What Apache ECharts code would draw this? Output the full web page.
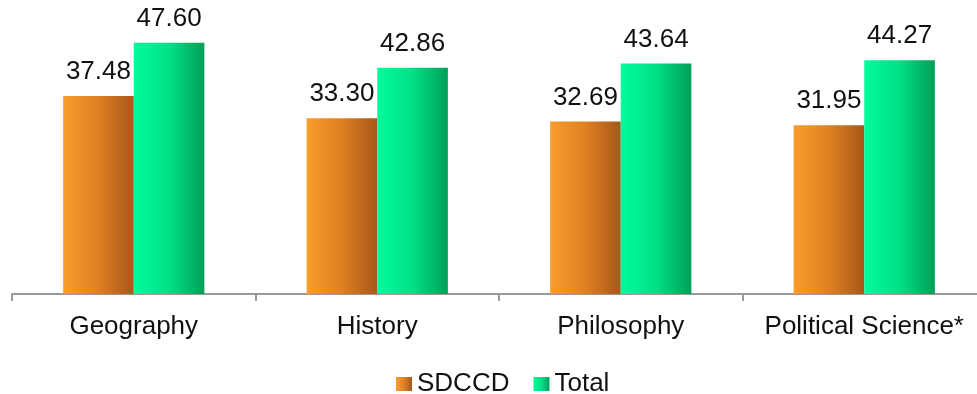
<!DOCTYPE html>
<html>
<head>
<meta charset="utf-8">
<style>
  html, body { margin: 0; padding: 0; background: #fff; }
  #chart { width: 977px; height: 394px; }
</style>
<script src="https://cdn.jsdelivr.net/npm/echarts@6/dist/echarts.min.js"></script>
</head>
<body>
<div id="chart"></div>
<script>
// Course categories and the two averaged series
const categories = ['Geography', 'History', 'Philosophy', 'Political Science*'];
const sdccdValues = [37.48, 33.30, 32.69, 31.95];
const totalValues = [47.60, 42.86, 43.64, 44.27];
const seriesNames = ['SDCCD', 'Total'];

const FONT = 'Liberation Sans, Arial, sans-serif';

function hGradient(from, mid, to) {
  return new echarts.graphic.LinearGradient(0, 0, 1, 0, [
    { offset: 0, color: from },
    { offset: 0.5, color: mid },
    { offset: 1, color: to }
  ]);
}

const orangeFill = hGradient('#f99d2b', '#e07f22', '#a6571a');
const greenFill = hGradient('#00fc9b', '#00e085', '#009f57');

const labelStyle = {
  show: true,
  position: 'top',
  distance: 11,
  color: '#111',
  fontFamily: FONT,
  fontSize: 26,
  formatter: p => p.value.toFixed(2)
};

const chart = echarts.init(document.getElementById('chart'), null, { renderer: 'canvas' });

chart.setOption({
  animation: false,
  backgroundColor: '#ffffff',
  grid: { left: 12, right: -9, top: 30, bottom: 100, containLabel: false, outerBoundsMode: 'none' },
  legend: {
    data: seriesNames,
    top: 366,
    left: 391,
    itemWidth: 16,
    itemHeight: 14,
    itemGap: 24,
    icon: 'rect',
    textStyle: { color: '#111', fontFamily: FONT, fontSize: 26 }
  },
  xAxis: {
    type: 'category',
    data: categories,
    axisLine: { show: true, lineStyle: { color: '#9a9a9a', width: 2 } },
    axisTick: { show: true, length: 7, lineStyle: { color: '#9a9a9a', width: 2 } },
    axisLabel: { color: '#111', fontFamily: FONT, fontSize: 26, margin: 20, interval: 0, hideOverlap: false }
  },
  yAxis: {
    type: 'value',
    min: 0,
    max: 50,
    show: false,
    splitLine: { show: false }
  },
  series: [
    {
      name: seriesNames[0],
      type: 'bar',
      data: sdccdValues,
      barWidth: '29%',
      barGap: '0%',
      itemStyle: { color: orangeFill },
      label: labelStyle
    },
    {
      name: seriesNames[1],
      type: 'bar',
      data: totalValues,
      barWidth: '29%',
      barGap: '0%',
      itemStyle: { color: greenFill },
      label: labelStyle
    }
  ]
});
</script>
</body>
</html>
